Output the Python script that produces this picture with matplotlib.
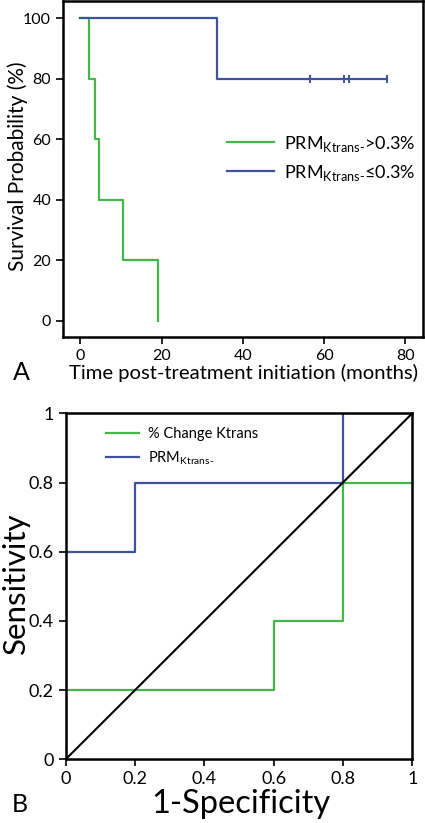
import matplotlib
matplotlib.use("Agg")
import matplotlib.pyplot as plt

plt.rcParams['font.family'] = ['Lato', 'DejaVu Sans']
plt.rcParams['mathtext.fontset'] = 'custom'
plt.rcParams['mathtext.rm'] = 'Lato'

green = '#45b649'
blue = '#3d52a1'

# Panel A - Kaplan-Meier survival
high_times = [0, 2.1, 3.7, 4.6, 10.5, 19.0]
high_surv = [100, 80, 60, 40, 20, 0]
low_times = [0, 33.6, 75.5]
low_surv = [100, 80, 80]
low_censor_times = [56.4, 64.9, 66.0, 75.5]
low_censor_surv = [80, 80, 80, 80]

# Panel B - ROC curves
pct_fpr = [0, 0, 0.6, 0.6, 0.8, 0.8, 1.0]
pct_tpr = [0, 0.2, 0.2, 0.4, 0.4, 0.8, 0.8]
prm_fpr = [0, 0, 0.2, 0.2, 0.8, 0.8, 1.0]
prm_tpr = [0, 0.6, 0.6, 0.8, 0.8, 1.0, 1.0]

fig = plt.figure(figsize=(4.25, 8.23), dpi=100)

### Panel A
ax1 = fig.add_axes([0.148, 0.5905, 0.847, 0.4085])
ax1.step(high_times, high_surv, where='post', color=green, lw=1.6,
         label=r'PRM$_{\mathregular{Ktrans\text{-}}}$>0.3%')
ax1.step(low_times, low_surv, where='post', color=blue, lw=1.6,
         label=r'PRM$_{\mathregular{Ktrans\text{-}}}$≤0.3%')
ax1.plot(low_censor_times, low_censor_surv, ls='none', marker='|', ms=6, mew=1.4, color=blue)
ax1.set_xlim(-4.3, 84.3)
ax1.set_ylim(-5.4, 105.7)
ax1.set_xticks([0, 20, 40, 60, 80])
ax1.set_yticks([0, 20, 40, 60, 80, 100])
ax1.tick_params(labelsize=11.5, width=1.2, length=5, colors='black')
for s in ax1.spines.values():
    s.set_linewidth(1.8)
ax1.set_xlabel('Time post-treatment initiation (months)', fontsize=14.6)
ax1.set_ylabel('Survival Probability (%)', fontsize=15)
ax1.xaxis.set_label_coords(0.503, -0.08)
ax1.yaxis.set_label_coords(-0.097, 0.507)
ax1.legend(loc='upper left', bbox_to_anchor=(0.455, 0.605), frameon=False,
           fontsize=13, handlelength=2.6, handletextpad=0.6, labelspacing=0.5,
           borderpad=0, borderaxespad=0)
fig.text(0.03, 0.547, 'A', fontsize=18, va='center', ha='left')

### Panel B
ax2 = fig.add_axes([0.1546, 0.0774, 0.8154, 0.4204])
ax2.plot(pct_fpr, pct_tpr, color=green, lw=1.6, label='% Change Ktrans')
ax2.plot(prm_fpr, prm_tpr, color=blue, lw=1.6, label=r'PRM$_{\mathregular{Ktrans\text{-}}}$')
ax2.plot([0, 1], [0, 1], color='black', lw=1.5)
ax2.set_xlim(0, 1)
ax2.set_ylim(0, 1)
ticks = [0, 0.2, 0.4, 0.6, 0.8, 1]
ticklabels = ['0', '0.2', '0.4', '0.6', '0.8', '1']
ax2.set_xticks(ticks)
ax2.set_xticklabels(ticklabels)
ax2.set_yticks(ticks)
ax2.set_yticklabels(ticklabels)
ax2.tick_params(labelsize=13, width=1.2, length=5, colors='black')
for s in ax2.spines.values():
    s.set_linewidth(1.8)
ax2.set_xlabel('1-Specificity', fontsize=23.5)
ax2.set_ylabel('Sensitivity', fontsize=22.5)
ax2.xaxis.set_label_coords(0.506, -0.085)
ax2.yaxis.set_label_coords(-0.102, 0.51)
ax2.legend(loc='upper left', bbox_to_anchor=(0.115, 0.96), frameon=False,
           fontsize=10.5, handlelength=2.3, handletextpad=0.6, labelspacing=0.55,
           borderpad=0, borderaxespad=0)
fig.text(0.028, 0.022, 'B', fontsize=18, va='center', ha='left')

fig.savefig('out.png', dpi=100)
